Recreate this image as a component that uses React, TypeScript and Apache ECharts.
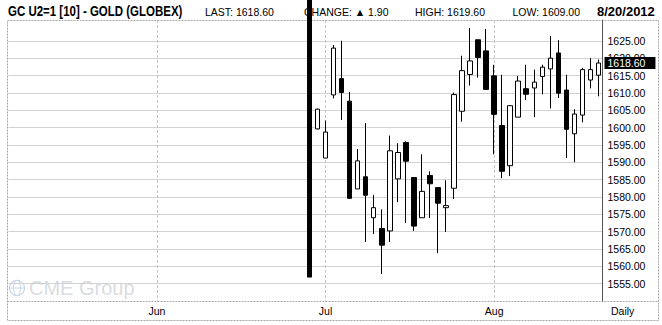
import React, { useEffect, useRef } from 'react';
import * as echarts from 'echarts';

// Trading days shown on the category axis (May 7 .. Aug 20, 2012)
const tradingDays = [
  '2012-05-07', '2012-05-08', '2012-05-09', '2012-05-10', '2012-05-11',
  '2012-05-14', '2012-05-15', '2012-05-16', '2012-05-17', '2012-05-18',
  '2012-05-21', '2012-05-22', '2012-05-23', '2012-05-24', '2012-05-25',
  '2012-05-29', '2012-05-30', '2012-05-31',
  '2012-06-01', '2012-06-04', '2012-06-05', '2012-06-06', '2012-06-07', '2012-06-08',
  '2012-06-11', '2012-06-12', '2012-06-13', '2012-06-14', '2012-06-15',
  '2012-06-18', '2012-06-19', '2012-06-20', '2012-06-21', '2012-06-22',
  '2012-06-25', '2012-06-26', '2012-06-27', '2012-06-28', '2012-06-29',
  '2012-07-02', '2012-07-03', '2012-07-05', '2012-07-06',
  '2012-07-09', '2012-07-10', '2012-07-11', '2012-07-12', '2012-07-13',
  '2012-07-16', '2012-07-17', '2012-07-18', '2012-07-19', '2012-07-20',
  '2012-07-23', '2012-07-24', '2012-07-25', '2012-07-26', '2012-07-27',
  '2012-07-30', '2012-07-31',
  '2012-08-01', '2012-08-02', '2012-08-03',
  '2012-08-06', '2012-08-07', '2012-08-08', '2012-08-09', '2012-08-10',
  '2012-08-13', '2012-08-14', '2012-08-15', '2012-08-16', '2012-08-17',
  '2012-08-20',
];

// Dates that have a candle
const candleDates = [
  '2012-06-28', '2012-06-29',
  '2012-07-02', '2012-07-03', '2012-07-05', '2012-07-06',
  '2012-07-09', '2012-07-10', '2012-07-11', '2012-07-12', '2012-07-13',
  '2012-07-16', '2012-07-17', '2012-07-18', '2012-07-19', '2012-07-20',
  '2012-07-23', '2012-07-24', '2012-07-25', '2012-07-26', '2012-07-27',
  '2012-07-30', '2012-07-31',
  '2012-08-01', '2012-08-02', '2012-08-03',
  '2012-08-06', '2012-08-07', '2012-08-08', '2012-08-09', '2012-08-10',
  '2012-08-13', '2012-08-14', '2012-08-15', '2012-08-16', '2012-08-17',
  '2012-08-20',
];

// [open, close, low, high]
const ohlc: number[][] = [
  [1640.0, 1556.9, 1556.9, 1640.0],
  [1599.6, 1605.3, 1599.5, 1605.5],
  [1591.2, 1598.7, 1591.2, 1602.0],
  [1609.4, 1622.9, 1608.4, 1623.8],
  [1614.1, 1610.1, 1602.2, 1625.0],
  [1607.6, 1579.6, 1579.6, 1610.2],
  [1582.3, 1590.4, 1582.3, 1593.8],
  [1585.8, 1580.5, 1567.0, 1601.3],
  [1574.0, 1576.9, 1569.3, 1580.6],
  [1570.9, 1566.1, 1557.8, 1576.4],
  [1570.2, 1593.3, 1567.0, 1597.7],
  [1585.2, 1592.8, 1578.5, 1595.5],
  [1595.7, 1590.3, 1572.5, 1596.0],
  [1585.6, 1571.6, 1570.2, 1585.6],
  [1574.0, 1581.6, 1574.0, 1592.3],
  [1586.2, 1583.8, 1573.9, 1587.4],
  [1582.7, 1578.2, 1563.8, 1582.7],
  [1576.9, 1577.5, 1569.9, 1584.8],
  [1582.5, 1609.5, 1579.4, 1610.1],
  [1604.7, 1616.4, 1601.7, 1620.7],
  [1615.3, 1619.2, 1612.1, 1628.7],
  [1625.3, 1620.2, 1614.4, 1625.3],
  [1622.1, 1611.0, 1611.0, 1628.4],
  [1614.9, 1603.8, 1592.3, 1618.1],
  [1600.6, 1587.4, 1585.4, 1615.2],
  [1589.0, 1606.3, 1586.0, 1606.3],
  [1603.0, 1613.4, 1603.0, 1614.9],
  [1611.2, 1609.6, 1607.9, 1618.1],
  [1611.4, 1613.1, 1603.0, 1616.7],
  [1614.7, 1617.4, 1609.6, 1618.1],
  [1616.9, 1620.0, 1605.5, 1626.4],
  [1621.5, 1609.9, 1608.5, 1625.2],
  [1610.8, 1599.5, 1591.2, 1615.2],
  [1598.2, 1603.9, 1590.0, 1605.3],
  [1603.6, 1616.7, 1601.5, 1617.2],
  [1613.7, 1616.7, 1611.3, 1620.0],
  [1615.1, 1618.6, 1609.0, 1619.6],
];

const yMin = 1550;
const yMax = 1631;
const yStep = 5;
const yLabelMin = 1555;
const yLabelMax = 1625;

const monthNames = ['Jan', 'Feb', 'Mar', 'Apr', 'May', 'Jun', 'Jul', 'Aug', 'Sep', 'Oct', 'Nov', 'Dec'];
const symbolTitle = 'GC U2=1 [10] - GOLD (GLOBEX)';
const chartDate = '8/20/2012';
const periodLabel = 'Daily';

const FONT = "'Liberation Sans', Arial, sans-serif";

export default function App() {
  const ref = useRef<HTMLDivElement>(null);

  useEffect(() => {
    document.body.style.margin = '0';
    const chart = echarts.init(ref.current!, null, { renderer: 'svg' });

    const lastBar = ohlc[ohlc.length - 1];
    const prevBar = ohlc[ohlc.length - 2];
    const lastClose = lastBar[1];
    const change = lastClose - prevBar[1];

    const isMonthStart = (i: number) =>
      i > 0 && tradingDays[i].slice(5, 7) !== tradingDays[i - 1].slice(5, 7);

    const splitColors: string[] = [];
    for (let v = yMin, k = 0; k < 20; k++, v += yStep) {
      splitColors.push(v >= yLabelMin && v <= yLabelMax ? '#d2d2d2' : 'rgba(0,0,0,0)');
    }

    const hdrY = 11.5;
    const option: any = {
      animation: false,
      backgroundColor: '#ffffff',
      grid: { left: 8.5, right: 59.5, top: 20, bottom: 24, containLabel: false },
      xAxis: {
        type: 'category',
        data: tradingDays,
        boundaryGap: true,
        axisLine: { show: false },
        axisTick: { show: false },
        axisLabel: {
          interval: (i: number) => isMonthStart(i),
          formatter: (v: string) => monthNames[parseInt(v.slice(5, 7), 10) - 1],
          fontSize: 10.5,
          fontFamily: FONT,
          color: '#000',
          margin: 4,
        },
        splitLine: {
          show: true,
          interval: (i: number) => isMonthStart(i),
          alignWithLabel: true,
          lineStyle: { color: '#c4c4c4', type: [3, 2], width: 1 },
        },
      },
      yAxis: {
        type: 'value',
        position: 'right',
        min: yMin,
        max: yMax,
        interval: yStep,
        axisLine: { show: true, lineStyle: { color: '#555', width: 1 } },
        axisTick: { show: false },
        axisLabel: {
          formatter: (v: number) => (v >= yLabelMin && v <= yLabelMax ? v.toFixed(2) : ''),
          fontSize: 10.5,
          fontFamily: FONT,
          color: '#000',
          margin: 5,
        },
        splitLine: { show: true, lineStyle: { color: splitColors, width: 1 } },
      },
      series: [
        {
          type: 'candlestick',
          data: candleDates.map((d, i) => [d, ...ohlc[i]]),
          encode: { x: 0, y: [1, 2, 3, 4] },
          barWidth: 5,
          clip: true,
          itemStyle: {
            color: '#ffffff',
            color0: '#000000',
            borderColor: '#000000',
            borderColor0: '#000000',
            borderWidth: 1,
          },
          markLine: {
            silent: true,
            symbol: 'none',
            lineStyle: { color: 'rgba(0,0,0,0)', width: 0 },
            data: [{ yAxis: lastClose }],
            label: {
              show: true,
              position: 'end',
              distance: 2,
              formatter: lastClose.toFixed(2),
              backgroundColor: '#000',
              color: '#fff',
              fontSize: 10.5,
              fontFamily: FONT,
              lineHeight: 11,
              padding: [1, 10, 0, 3],
            },
          },
        },
      ],
      graphic: [
        {
          type: 'rect',
          silent: true,
          shape: { x: 7.5, y: 20.5, width: 651, height: 300 },
          style: { fill: 'none', stroke: '#a8a8a8', lineWidth: 1, lineDash: [2, 1] },
          z: -1,
        },
        {
          type: 'line',
          silent: true,
          shape: { x1: 7.5, y1: 301.5, x2: 658.5, y2: 301.5 },
          style: { stroke: '#a8a8a8', lineWidth: 1, lineDash: [2, 1] },
        },
        {
          type: 'text', x: 8, y: hdrY, scaleX: 0.82, scaleY: 1,
          style: { text: symbolTitle, font: `bold 14px ${FONT}`, fill: '#000', verticalAlign: 'middle' },
        },
        {
          type: 'text', x: 205, y: hdrY,
          style: { text: `LAST: ${lastClose.toFixed(2)}`, font: `10.5px ${FONT}`, fill: '#000', verticalAlign: 'middle' },
        },
        {
          type: 'text', x: 304, y: hdrY,
          style: { text: `CHANGE: ${change >= 0 ? '▲' : '▼'} ${Math.abs(change).toFixed(2)}`, font: `10.5px ${FONT}`, fill: '#000', verticalAlign: 'middle' },
        },
        {
          type: 'text', x: 415, y: hdrY,
          style: { text: `HIGH: ${lastBar[3].toFixed(2)}`, font: `10.5px ${FONT}`, fill: '#000', verticalAlign: 'middle' },
        },
        {
          type: 'text', x: 512.5, y: hdrY,
          style: { text: `LOW: ${lastBar[2].toFixed(2)}`, font: `10.5px ${FONT}`, fill: '#000', verticalAlign: 'middle' },
        },
        {
          type: 'text', x: 597, y: hdrY,
          style: { text: chartDate, font: `bold 13px ${FONT}`, fill: '#000', verticalAlign: 'middle' },
        },
        {
          type: 'text', x: 611, y: 311,
          style: { text: periodLabel, font: `10.5px ${FONT}`, fill: '#000', verticalAlign: 'middle' },
        },
        {
          type: 'group', silent: true,
          children: [
            { type: 'circle', shape: { cx: 17, cy: 288, r: 7.5 }, style: { fill: 'none', stroke: '#c9d6ea', lineWidth: 1.2 } },
            { type: 'ellipse', shape: { cx: 17, cy: 288, rx: 3.5, ry: 7.5 }, style: { fill: 'none', stroke: '#c9d6ea', lineWidth: 1 } },
            { type: 'line', shape: { x1: 9.5, y1: 288, x2: 24.5, y2: 288 }, style: { stroke: '#c9d6ea', lineWidth: 1 } },
            {
              type: 'text', x: 29, y: 288,
              style: { text: 'CME Group', font: `20px ${FONT}`, fill: '#d9dce2', verticalAlign: 'middle' },
            },
          ],
        },
      ],
    };

    chart.setOption(option);
    return () => chart.dispose();
  }, []);

  return <div ref={ref} style={{ width: 662, height: 325 }} />;
}
